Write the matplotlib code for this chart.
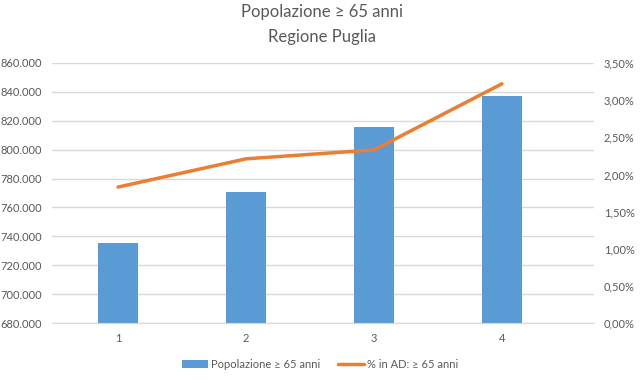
import matplotlib.pyplot as plt
from matplotlib.ticker import FuncFormatter, MultipleLocator

plt.rcParams['font.family'] = ['Lato', 'DejaVu Sans']

# Data
categorie = [1, 2, 3, 4]
popolazione = [735400, 770700, 815700, 837300]
perc_ad = [1.83, 2.21, 2.33, 3.22]

grigio = '#595959'

fig = plt.figure(figsize=(6.44, 3.83), dpi=100)
ax = fig.add_axes([52 / 644, 1 - 323 / 383, 542 / 644, 260 / 383])
ax2 = ax.twinx()

ax.bar(categorie, popolazione, width=0.3125, color='#5B9BD5', zorder=2,
       label='Popolazione ≥ 65 anni')
ax2.plot(categorie, perc_ad, color='#ED7D31', lw=2.5, solid_capstyle='round',
         label='% in AD: ≥ 65 anni')

ax.set_xlim(0.484, 4.72)
ax.set_ylim(680000, 860000)
ax.yaxis.set_major_locator(MultipleLocator(20000))
ax.yaxis.set_major_formatter(FuncFormatter(lambda v, p: f'{v:,.0f}'.replace(',', '.')))
ax2.set_ylim(0, 3.5)
ax2.yaxis.set_major_locator(MultipleLocator(0.5))
ax2.yaxis.set_major_formatter(FuncFormatter(lambda v, p: f'{v:.2f}%'.replace('.', ',')))

ax.set_xticks(categorie)
ax.grid(axis='y', color='#D9D9D9', lw=1, zorder=0)
ax.set_axisbelow(True)
for a in (ax, ax2):
    for s in a.spines.values():
        s.set_visible(False)
    a.tick_params(length=0, labelsize=8, labelcolor=grigio)
ax.spines['bottom'].set_visible(True)
ax.spines['bottom'].set_color('#D9D9D9')
ax.tick_params(axis='y', pad=7)
ax2.tick_params(axis='y', pad=7)
ax.tick_params(axis='x', pad=7)

fig.suptitle('Popolazione ≥ 65 anni\nRegione Puglia', y=0.99, fontsize=12,
             color=grigio, linespacing=1.7)

h1, l1 = ax.get_legend_handles_labels()
h2, l2 = ax2.get_legend_handles_labels()
fig.legend(h1 + h2, l1 + l2, loc='center', bbox_to_anchor=(0.497, 0.048), ncol=2,
           frameon=False, fontsize=8, labelcolor=grigio, handlelength=2.3,
           columnspacing=1.6, handletextpad=0.3)

fig.savefig('out.png', dpi=100)
